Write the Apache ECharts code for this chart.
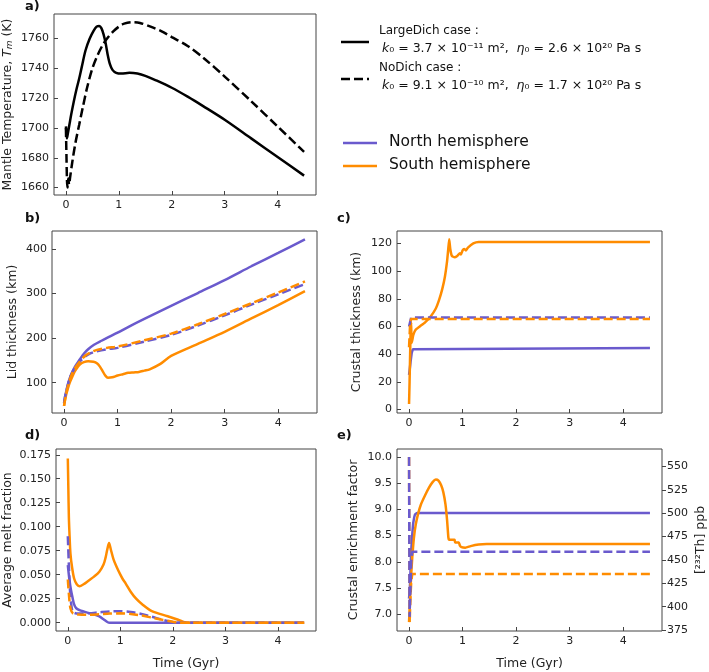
<!DOCTYPE html>
<html><head><meta charset="utf-8">
<script src="https://cdn.jsdelivr.net/npm/echarts@6/dist/echarts.min.js"></script>
<style>html,body{margin:0;padding:0;background:#fff}#c{width:709px;height:672px}</style>
</head><body><div id="c"></div>
<script>
// ---------- data (time in Gyr) ----------
const xTicks = [0, 1, 2, 3, 4];
// a) mantle temperature (K)
const tempLargeDich = [[0,1701],[0.01,1697],[0.02,1693],[0.04,1697],[0.07,1703],[0.1,1709],[0.15,1718],[0.2,1726],[0.25,1733],[0.3,1741],[0.37,1752],[0.45,1760],[0.52,1765],[0.58,1768],[0.63,1768.5],[0.67,1767],[0.71,1763],[0.75,1757],[0.79,1749],[0.83,1743],[0.88,1739],[0.95,1737],[1.05,1736.5],[1.2,1737],[1.35,1736.5],[1.5,1735],[1.7,1732],[2.0,1727],[2.3,1721],[2.6,1714.5],[3.0,1705.5],[3.5,1693],[4.0,1680.5],[4.5,1668]];
const tempNoDich = [[0,1700],[0.01,1682],[0.02,1665],[0.03,1660],[0.045,1666],[0.06,1662],[0.08,1667],[0.12,1677],[0.18,1690],[0.25,1702],[0.32,1714],[0.4,1727],[0.5,1740],[0.6,1749],[0.7,1756],[0.8,1761],[0.9,1765],[1.0,1768],[1.1,1770],[1.25,1771],[1.4,1770.5],[1.6,1768],[1.8,1765],[2.0,1761],[2.3,1755],[2.6,1747],[3.0,1734.5],[3.5,1718],[4.0,1701],[4.5,1684]];
const tempTicks = [1660, 1680, 1700, 1720, 1740, 1760];
// b) lid thickness (km)
const lidNorth = [[0,55],[0.03,75],[0.06,90],[0.1,108],[0.15,123],[0.2,135],[0.25,144],[0.3,153],[0.37,165],[0.45,175],[0.56,185],[0.7,194],[0.85,203],[1.0,212],[1.25,228],[1.5,243],[2.0,272],[2.5,301],[3.0,330],[3.5,361],[4.0,391],[4.5,421]];
const lidSouth = [[0,48],[0.03,68],[0.06,82],[0.1,98],[0.15,112],[0.2,125],[0.25,134],[0.3,141],[0.37,146],[0.45,148],[0.55,147],[0.62,143],[0.67,136],[0.72,126],[0.77,116],[0.82,111],[0.9,112],[1.0,116],[1.1,119],[1.2,122],[1.3,123],[1.4,124],[1.5,127],[1.6,130],[1.8,142],[2.0,160],[2.5,187],[3.0,214],[3.5,244],[4.0,274],[4.5,305]];
const lidNorthNoDich = [[0,55],[0.03,75],[0.06,90],[0.1,108],[0.15,122],[0.2,133],[0.3,148],[0.4,159],[0.5,166],[0.6,170],[0.8,175],[1.0,178],[1.5,192],[2.0,207],[2.5,228],[3.0,251],[3.5,275],[4.0,298],[4.5,321]];
const lidSouthNoDich = [[0,48],[0.03,70],[0.06,86],[0.1,104],[0.15,120],[0.2,132],[0.3,148],[0.4,161],[0.5,168],[0.6,173],[0.8,178],[1.0,181],[1.5,195],[2.0,210],[2.5,231],[3.0,254],[3.5,278],[4.0,302],[4.5,327]];
const lidTicks = [100, 200, 300, 400];
// c) crustal thickness (km)
const crustNorth = [[0,25],[0.01,28],[0.03,35],[0.05,41],[0.07,43.5],[0.1,44.5],[4.5,44.5]];
const crustSouth = [[0,4],[0.01,20],[0.02,40],[0.03,58],[0.04,63],[0.045,48],[0.06,50],[0.08,54],[0.12,57.5],[0.2,60],[0.3,63],[0.4,67],[0.5,73],[0.56,79],[0.62,87],[0.67,96],[0.71,107],[0.73,115],[0.75,123],[0.77,116],[0.8,111],[0.85,110],[0.9,111],[0.95,113],[0.97,112],[1.0,115],[1.03,116],[1.06,115],[1.1,117],[1.2,120],[1.3,121],[1.4,121],[4.5,121]];
const crustNorthNoDich = [[0,60],[0.02,60],[0.04,66.5],[4.5,66.5]];
const crustSouthNoDich = [[0,45],[0.02,62],[0.04,65.5],[4.5,65.5]];
const crustTicks = [0, 20, 40, 60, 80, 100, 120];
// d) average melt fraction
const meltSouth = [[0,0.171],[0.01,0.14],[0.02,0.11],[0.03,0.095],[0.05,0.072],[0.08,0.058],[0.12,0.046],[0.17,0.040],[0.22,0.038],[0.3,0.040],[0.4,0.044],[0.5,0.048],[0.6,0.053],[0.68,0.0605],[0.72,0.068],[0.75,0.076],[0.785,0.083],[0.82,0.076],[0.87,0.066],[0.93,0.058],[1.0,0.050],[1.05,0.045],[1.1,0.041],[1.2,0.032],[1.3,0.025],[1.42,0.019],[1.6,0.012],[1.9,0.0067],[2.1,0.003],[2.22,0.0005],[2.3,0],[4.5,0]];
const meltNorth = [[0,0.06],[0.03,0.045],[0.06,0.034],[0.09,0.026],[0.12,0.019],[0.16,0.015],[0.25,0.0125],[0.37,0.0105],[0.5,0.0085],[0.6,0.0065],[0.68,0.0035],[0.76,0.0004],[0.8,0],[4.5,0]];
const meltNorthNoDich = [[0,0.09],[0.02,0.06],[0.04,0.035],[0.07,0.017],[0.1,0.011],[0.2,0.0095],[0.4,0.0098],[0.6,0.0108],[0.8,0.0117],[1.0,0.012],[1.2,0.0112],[1.4,0.009],[1.6,0.0062],[1.8,0.003],[2.0,0.0005],[2.05,0],[4.5,0]];
const meltSouthNoDich = [[0,0.045],[0.02,0.03],[0.05,0.015],[0.1,0.0095],[0.2,0.0085],[0.4,0.0082],[0.6,0.0088],[0.8,0.0095],[1.0,0.0097],[1.2,0.009],[1.4,0.0075],[1.6,0.0052],[1.8,0.003],[2.0,0.001],[2.1,0],[4.5,0]];
const meltTicks = [0, 0.025, 0.05, 0.075, 0.1, 0.125, 0.15, 0.175];
// e) crustal enrichment factor (right axis: [232Th] ppb = factor x 56)
const enrichNorth = [[0,7.3],[0.02,7.6],[0.04,8.2],[0.06,8.52],[0.08,8.75],[0.11,8.9],[0.15,8.93],[4.5,8.93]];
const enrichSouth = [[0,6.85],[0.02,7.3],[0.04,7.75],[0.06,8.08],[0.09,8.45],[0.125,8.71],[0.17,8.92],[0.22,9.09],[0.3,9.27],[0.37,9.41],[0.44,9.52],[0.5,9.57],[0.55,9.55],[0.6,9.46],[0.64,9.33],[0.68,9.1],[0.71,8.8],[0.735,8.46],[0.75,8.42],[0.85,8.42],[0.86,8.37],[0.93,8.37],[0.95,8.31],[0.98,8.28],[1.05,8.27],[1.15,8.3],[1.3,8.33],[1.45,8.34],[4.5,8.34]];
const enrichNorthNoDich = [[0,10.0],[0.005,8.5],[0.01,6.95],[0.02,7.3],[0.03,7.6],[0.04,8.0],[0.06,8.19],[4.5,8.19]];
const enrichSouthNoDich = [[0,10.0],[0.005,8.5],[0.012,6.85],[0.025,7.3],[0.04,7.6],[0.06,7.77],[4.5,7.77]];
const enrichTicks = [7.0, 7.5, 8.0, 8.5, 9.0, 9.5, 10.0];
const thTicks = [375, 400, 425, 450, 475, 500, 525, 550];
const thPerFactor = 56;

// ---------- styling ----------
const FONT = 'DejaVu Sans';
const BLUE = '#6A5ACD', ORANGE = '#FF8C00', BLACK = '#000';
const TXT = '#222';
const FRAME = '#444';
const grids = [
  {left:52, top:14, width:264, height:181},
  {left:52, top:231, width:265, height:182},
  {left:397, top:231, width:265, height:182},
  {left:52, top:449, width:264, height:182},
  {left:397, top:449, width:265, height:182}
].map(g => Object.assign({show:true, borderColor:FRAME, borderWidth:1, backgroundColor:'transparent'}, g));

function xAx(i, withName){
  return {type:'value', gridIndex:i, min:-0.225, max:4.725,
    axisLine:{show:false, onZero:false}, splitLine:{show:false},
    axisTick:{show:true, inside:true, length:4, lineStyle:{color:FRAME, width:1}, customValues:xTicks},
    axisLabel:{fontFamily:FONT, fontSize:11, color:TXT, margin:5, customValues:xTicks},
    name: withName ? 'Time (Gyr)' : '', nameLocation:'middle', nameGap:26,
    nameTextStyle:{fontFamily:FONT, fontSize:12.5, color:TXT}};
}
function yAx(i, min, max, ticks, name, gap, fmt, extra){
  return Object.assign({type:'value', gridIndex:i, min, max,
    axisLine:{show:false, onZero:false}, splitLine:{show:false},
    axisTick:{show:true, inside:true, length:4, lineStyle:{color:FRAME, width:1}, customValues:ticks},
    axisLabel:{fontFamily:FONT, fontSize:11, color:TXT, margin:5, customValues:ticks, formatter:fmt || (v => String(v))},
    name, nameLocation:'middle', nameGap:gap, nameRotate:90,
    nameTextStyle:{fontFamily:FONT, fontSize:12.5, color:TXT,
      rich:{i:{fontFamily:FONT, fontSize:12.5, fontStyle:'italic', color:TXT}, sub:{fontFamily:FONT, fontSize:9, fontStyle:'italic', color:TXT, verticalAlign:'bottom', padding:[4,0,0,0]}}}}, extra||{});
}
function ln(data, color, dashed, xi, yi, smooth){
  return {type:'line', data, xAxisIndex:xi, yAxisIndex:yi, symbol:'none', showSymbol:false,
    smooth: smooth===undefined ? 0.3 : smooth, animation:false, silent:true,
    lineStyle:{color, width: 2.5, type: dashed ? [9,4] : 'solid', cap:'butt'}};
}

const option = {
  animation:false,
  grid: grids,
  xAxis: [xAx(0), xAx(1), xAx(2), xAx(3,true), xAx(4,true)],
  yAxis: [
    yAx(0, 1655, 1776.5, tempTicks, 'Mantle Temperature, {i|T}{sub|m} (K)', 40),
    yAx(1, 32, 440, lidTicks, 'Lid thickness (km)', 33),
    yAx(2, -2.5, 129, crustTicks, 'Crustal thickness (km)', 34),
    yAx(3, -0.0087, 0.181, meltTicks, 'Average melt fraction', 42, v => v.toFixed(3)),
    yAx(4, 6.68, 10.153, enrichTicks, 'Crustal enrichment factor', 37, v => v.toFixed(1)),
    yAx(4, 6.68*thPerFactor, 10.153*thPerFactor, thTicks, '', 34, null,
      {position:'right', axisTick:{show:true, inside:false, length:4, lineStyle:{color:FRAME, width:1}, customValues:thTicks}})
  ],
  series: [
    ln(tempLargeDich, BLACK, false, 0, 0),
    ln(tempNoDich, BLACK, true, 0, 0),
    ln(lidNorth, BLUE, false, 1, 1),
    ln(lidSouth, ORANGE, false, 1, 1),
    ln(lidNorthNoDich, BLUE, true, 1, 1),
    ln(lidSouthNoDich, ORANGE, true, 1, 1),
    ln(crustNorth, BLUE, false, 2, 2, false),
    ln(crustSouth, ORANGE, false, 2, 2, 0.15),
    ln(crustNorthNoDich, BLUE, true, 2, 2, false),
    ln(crustSouthNoDich, ORANGE, true, 2, 2, false),
    ln(meltNorth, BLUE, false, 3, 3),
    ln(meltSouth, ORANGE, false, 3, 3),
    ln(meltNorthNoDich, BLUE, true, 3, 3),
    ln(meltSouthNoDich, ORANGE, true, 3, 3),
    ln(enrichNorth, BLUE, false, 4, 4, 0.15),
    ln(enrichSouth, ORANGE, false, 4, 4, 0.15),
    ln(enrichSouthNoDich, ORANGE, true, 4, 4, false),
    ln(enrichNorthNoDich, BLUE, true, 4, 4, false)
  ],
  graphic: [
    {type:'text', left:25, top:0, style:{text:'a)', font:'bold 13px "DejaVu Sans"', fill:'#111'}},
    {type:'text', left:25, top:212, style:{text:'b)', font:'bold 13px "DejaVu Sans"', fill:'#111'}},
    {type:'text', left:337, top:212, style:{text:'c)', font:'bold 13px "DejaVu Sans"', fill:'#111'}},
    {type:'text', left:25, top:429, style:{text:'d)', font:'bold 13px "DejaVu Sans"', fill:'#111'}},
    {type:'text', left:337, top:429, style:{text:'e)', font:'bold 13px "DejaVu Sans"', fill:'#111'}},
    // right axis title of panel e (reads bottom to top)
    {type:'text', x:701, y:540, rotation:Math.PI/2, style:{text:'[²³²Th] ppb', font:'12.5px "DejaVu Sans"', fill:TXT, textAlign:'center', textVerticalAlign:'middle'}},
    // legend
    {type:'line', shape:{x1:341, y1:42, x2:369, y2:42}, style:{stroke:BLACK, lineWidth:2.5}},
    {type:'line', shape:{x1:341, y1:79, x2:369, y2:79}, style:{stroke:BLACK, lineWidth:2.5, lineDash:[9,4]}},
    {type:'text', x:379, y:25, style:{text:'LargeDich case :', font:'12px "DejaVu Sans"', fill:'#111'}},
    {type:'text', x:382, y:42, style:{text:'{i|k}₀ = 3.7 × 10⁻¹¹ m²,  {i|η}₀ = 2.6 × 10²⁰ Pa s', font:'12.5px "DejaVu Sans"', fill:'#111', rich:{i:{fontStyle:'italic', fontSize:12.5, fontFamily:FONT}}}},
    {type:'text', x:379, y:62, style:{text:'NoDich case :', font:'12px "DejaVu Sans"', fill:'#111'}},
    {type:'text', x:382, y:79, style:{text:'{i|k}₀ = 9.1 × 10⁻¹⁰ m²,  {i|η}₀ = 1.7 × 10²⁰ Pa s', font:'12.5px "DejaVu Sans"', fill:'#111', rich:{i:{fontStyle:'italic', fontSize:12.5, fontFamily:FONT}}}},
    {type:'line', shape:{x1:343, y1:143, x2:377, y2:143}, style:{stroke:BLUE, lineWidth:2.5}},
    {type:'line', shape:{x1:343, y1:166, x2:377, y2:166}, style:{stroke:ORANGE, lineWidth:2.5}},
    {type:'text', x:389, y:134, style:{text:'North hemisphere', font:'15.5px "DejaVu Sans"', fill:'#111'}},
    {type:'text', x:389, y:157, style:{text:'South hemisphere', font:'15.5px "DejaVu Sans"', fill:'#111'}}
  ]
};
const chart = echarts.init(document.getElementById('c'), null, {renderer:'canvas'});
chart.setOption(option);
</script></body></html>
